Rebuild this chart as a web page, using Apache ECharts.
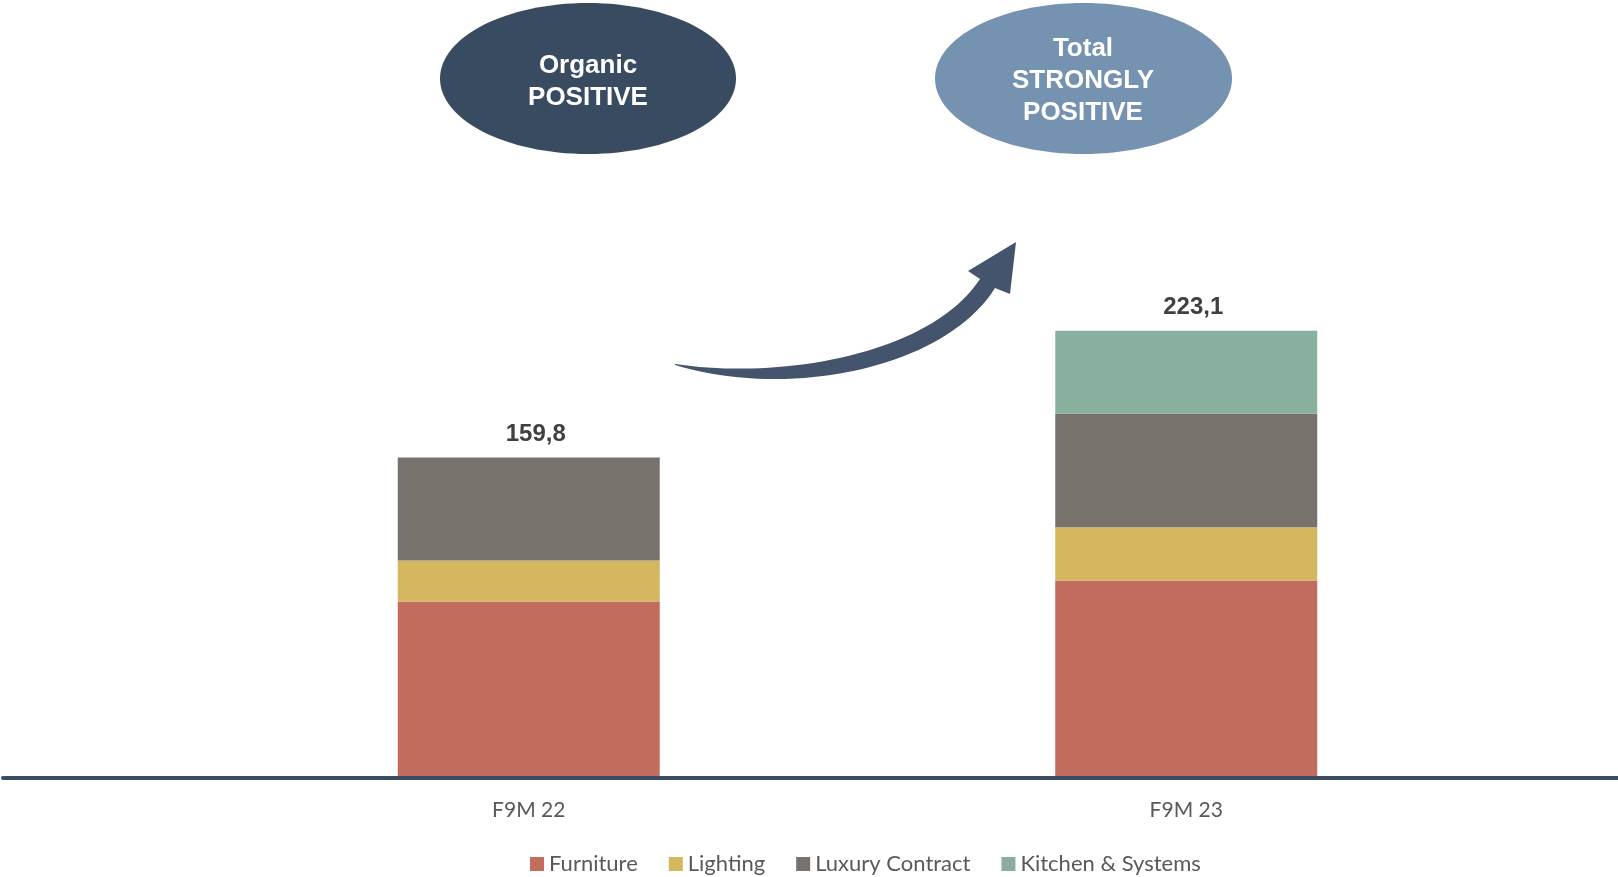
<!DOCTYPE html>
<html>
<head>
<meta charset="utf-8">
<script src="https://cdn.jsdelivr.net/npm/echarts@6/dist/echarts.min.js"></script>
<style>
html,body{margin:0;padding:0;background:#fff;}
#chart{width:1618px;height:877px;}
</style>
</head>
<body>
<div id="chart"></div>
<script>
// ---- data ----
const categories = ['F9M 22', 'F9M 23'];
const furniture = [87.7, 98.3];
const lighting = [20.5, 26.6];
const luxuryContract = [51.6, 56.7];
const kitchenSystems = ['-', 41.5];
const totals = [159.8, 223.1];
const totalLabels = ['159,8', '223,1'];

const colors = {
  furniture: '#c26c5d',
  lighting: '#d4b75e',
  luxury: '#78726d',
  kitchen: '#89b09e'
};

const chart = echarts.init(document.getElementById('chart'));
const labelFont = 'Lato, "Open Sans", sans-serif';

function barSeries(name, data, color) {
  return {
    name: name, type: 'bar', stack: 'total', data: data,
    xAxisIndex: 0, yAxisIndex: 0,
    barWidth: 262,
    itemStyle: { color: color },
    emphasis: { disabled: true }
  };
}

// decorative arrow outline (cubic bezier sampled into polygon points)
function cubic(p0, p1, p2, p3, n) {
  const pts = [];
  for (let i = 0; i <= n; i++) {
    const t = i / n, u = 1 - t;
    pts.push([
      u*u*u*p0[0] + 3*u*u*t*p1[0] + 3*u*t*t*p2[0] + t*t*t*p3[0],
      u*u*u*p0[1] + 3*u*u*t*p1[1] + 3*u*t*t*p2[1] + t*t*t*p3[1]
    ]);
  }
  return pts;
}
const arrowPts = []
  .concat(cubic([675,364],[780,380],[930,355],[980,279], 40))
  .concat([[968,271],[1016,242],[1010,294]])
  .concat(cubic([995,288],[945,368],[790,400],[675,365], 40));

chart.setOption({
  animation: false,
  backgroundColor: '#ffffff',
  grid: [
    { left: 200, right: 103, top: 177, bottom: 100 },
    { left: 3, right: 0, top: 177, bottom: 99 }
  ],
  xAxis: [
    {
      type: 'category', gridIndex: 0, data: categories,
      axisLine: { show: false }, axisTick: { show: false },
      axisLabel: { margin: 23, fontSize: 21, color: '#595959', fontFamily: labelFont }
    },
    {
      type: 'category', gridIndex: 1, data: [''], z: 5,
      axisLine: { show: true, lineStyle: { color: '#3b4d63', width: 4 } },
      axisTick: { show: false }, axisLabel: { show: false }
    }
  ],
  yAxis: [
    { type: 'value', gridIndex: 0, min: 0, max: 300, show: false, splitLine: { show: false } },
    { type: 'value', gridIndex: 1, min: 0, max: 1, show: false, splitLine: { show: false } }
  ],
  legend: {
    top: 847, left: 525,
    itemWidth: 14, itemHeight: 14, itemGap: 31,
    icon: 'rect',
    textStyle: { fontSize: 22, lineHeight: 24, color: '#595959', fontFamily: labelFont },
    data: ['Furniture', 'Lighting', 'Luxury Contract', 'Kitchen & Systems']
  },
  series: [
    barSeries('Furniture', furniture, colors.furniture),
    barSeries('Lighting', lighting, colors.lighting),
    barSeries('Luxury Contract', luxuryContract, colors.luxury),
    barSeries('Kitchen & Systems', kitchenSystems, colors.kitchen),
    {
      name: 'Total', type: 'scatter', xAxisIndex: 0, yAxisIndex: 0,
      data: totals, symbolSize: 0, silent: true,
      itemStyle: { opacity: 1 },
      label: {
        show: true, position: 'top', distance: 11, offset: [7, 0],
        formatter: function (p) { return totalLabels[p.dataIndex]; },
        fontSize: 24, fontWeight: 'bold', color: '#404040', opacity: 1,
        fontFamily: '"Liberation Sans", Arial, sans-serif'
      }
    },
    {
      name: 'axisBase', type: 'bar', xAxisIndex: 1, yAxisIndex: 1,
      data: [0], silent: true, itemStyle: { color: 'transparent' }
    }
  ],
  graphic: [
    {
      type: 'ellipse', shape: { cx: 588, cy: 78.5, rx: 148, ry: 75.5 },
      style: { fill: '#394b61' }
    },
    {
      type: 'text', x: 588, y: 82,
      style: {
        text: 'Organic\nPOSITIVE', fill: '#ffffff', align: 'center', verticalAlign: 'middle',
        font: 'bold 26px "Liberation Sans", Arial, sans-serif', lineHeight: 32
      }
    },
    {
      type: 'ellipse', shape: { cx: 1083.5, cy: 78.5, rx: 148.5, ry: 75.5 },
      style: { fill: '#7592b0' }
    },
    {
      type: 'text', x: 1083, y: 81,
      style: {
        text: 'Total\nSTRONGLY\nPOSITIVE', fill: '#ffffff', align: 'center', verticalAlign: 'middle',
        font: 'bold 26px "Liberation Sans", Arial, sans-serif', lineHeight: 32
      }
    },
    {
      type: 'polygon',
      shape: { points: arrowPts },
      style: { fill: '#44546c' }
    }
  ]
});
</script>
</body>
</html>
